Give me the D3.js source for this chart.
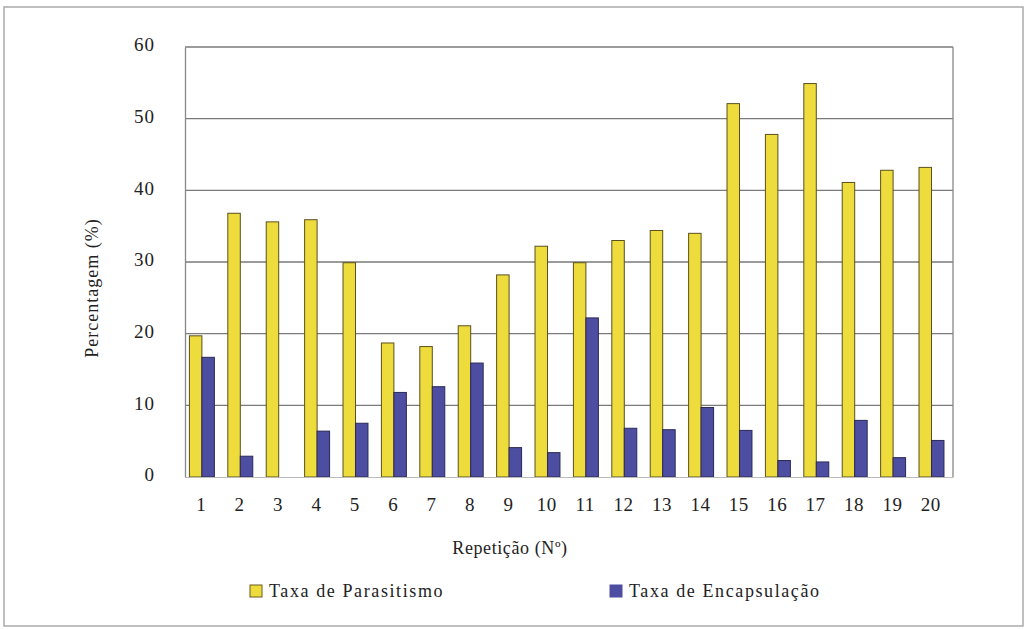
<!DOCTYPE html>
<html><head><meta charset="utf-8">
<script src="https://cdn.jsdelivr.net/npm/d3@7"></script>
<style>body{margin:0;background:#fff;} svg{display:block;}</style>
</head><body>
<script>
const categories = ["1","2","3","4","5","6","7","8","9","10","11","12","13","14","15","16","17","18","19","20"];
const parasitismo = [19.7,36.8,35.6,35.9,29.9,18.7,18.2,21.1,28.2,32.2,29.9,33.0,34.4,34.0,52.1,47.8,54.9,41.1,42.8,43.2];
const encapsulacao = [16.7,2.9,0,6.4,7.5,11.8,12.6,15.9,4.1,3.4,22.2,6.8,6.6,9.7,6.5,2.3,2.1,7.9,2.7,5.1];
const yTicks = [0,10,20,30,40,50,60];
const seriesNames = ["Taxa de Parasitismo","Taxa de Encapsulação"];
const colors = ["#eedb3c","#4d4ea2"];

const W=1030,H=629;
const m={left:185,right:77,top:47,bottom:152};
const FONT='"Liberation Serif", "Times New Roman", Times, "DejaVu Serif", "Noto Serif", serif';
const svg=d3.select("body").append("svg").attr("width",W).attr("height",H);

// outer frame
svg.append("rect").attr("x",4).attr("y",7).attr("width",1019).attr("height",619)
  .attr("fill","none").attr("stroke","#aaa").attr("stroke-width",1.5);

const x=d3.scaleBand().domain(categories).range([m.left,W-m.right]).paddingInner(0).paddingOuter(0);
const bw=x.bandwidth();
const x1=d3.scaleBand().domain([0,1]).range([bw*0.115,bw*0.765]).paddingInner(0).paddingOuter(0);
const y=d3.scaleLinear().domain([0,60]).range([H-m.bottom,m.top]);

// gridlines
svg.append("g").selectAll("line").data(yTicks.filter(d=>d>0)).join("line")
  .attr("x1",m.left).attr("x2",W-m.right).attr("y1",d=>y(d)).attr("y2",d=>y(d))
  .attr("stroke","#7a7a7a").attr("stroke-width",1.3);
// right border
svg.append("line").attr("x1",W-m.right).attr("x2",W-m.right).attr("y1",m.top).attr("y2",y(0))
  .attr("stroke","#888").attr("stroke-width",1.3);

// bars
const groups=svg.append("g").selectAll("g").data(categories).join("g")
  .attr("transform",d=>`translate(${x(d)},0)`);
groups.selectAll("rect").data((d,i)=>[parasitismo[i],encapsulacao[i]]).join("rect")
  .attr("x",(d,j)=>x1(j)).attr("width",x1.bandwidth())
  .attr("y",d=>y(d)).attr("height",d=>y(0)-y(d))
  .attr("fill",(d,j)=>colors[j])
  .attr("stroke",(d,j)=>j===0?"#5a5020":"#2a2a55").attr("stroke-width",(d)=>d>0?1:0);

// y axis
const yAxis=svg.append("g").attr("transform",`translate(${m.left},0)`)
  .call(d3.axisLeft(y).tickValues(yTicks).tickSize(0).tickPadding(30));
yAxis.attr("font-family",null);
yAxis.select(".domain").attr("stroke","#888").attr("stroke-width",1.3);
yAxis.selectAll("text").style("font-family",FONT).style("font-size","19px")
  .style("letter-spacing","1px").attr("fill","#222").attr("dy","0.2em");

// x axis
const xAxis=svg.append("g").attr("transform",`translate(0,${y(0)})`)
  .call(d3.axisBottom(x).tickSize(0).tickPadding(21));
xAxis.attr("font-family",null);
xAxis.select(".domain").attr("stroke","#bbb").attr("stroke-width",1.2);
xAxis.selectAll("text").style("font-family",FONT).style("font-size","19px")
  .style("letter-spacing","0.5px").attr("fill","#222").attr("dx",-3);

// axis titles
svg.append("text").attr("transform",`translate(98,288) rotate(-90)`)
  .attr("text-anchor","middle").style("font-family",FONT).style("font-size","18px")
  .style("letter-spacing","1px").attr("fill","#222")
  .text("Percentagem (%)");
svg.append("text").attr("x",510).attr("y",554)
  .attr("text-anchor","middle").style("font-family",FONT).style("font-size","18px")
  .style("letter-spacing","0.6px").attr("fill","#222")
  .text("Repetição (Nº)");

// legend
const legX=[250,610];
const leg=svg.append("g").selectAll("g").data(seriesNames).join("g")
  .attr("transform",(d,i)=>`translate(${legX[i]},585)`);
leg.append("rect").attr("width",12).attr("height",12).attr("fill",(d,i)=>colors[i])
  .attr("stroke",(d,i)=>i===0?"#6a5a20":"#4d4ea2");
leg.append("text").attr("x",19).attr("y",12).style("font-family",FONT).style("font-size","18px")
  .style("letter-spacing","1.6px").attr("fill","#222").text(d=>d);
</script>
</body></html>
